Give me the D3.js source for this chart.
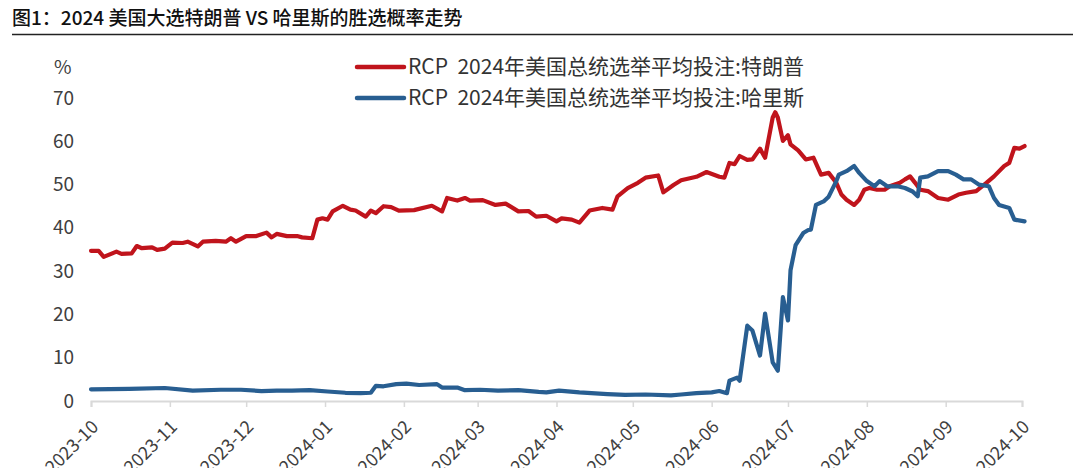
<!DOCTYPE html>
<html>
<head>
<meta charset="utf-8">
<script src="https://cdn.jsdelivr.net/npm/d3@7"></script>
<style>
  html, body { margin: 0; padding: 0; background: #fff; }
  svg { display: block; font-family: "Noto Sans CJK SC", "Noto Sans", sans-serif; }
</style>
</head>
<body>
<svg id="chart" width="1080" height="468"></svg>
<script>
const titleText = "图1：2024 美国大选特朗普 VS 哈里斯的胜选概率走势";
const unitLabel = "%";
const seriesNames = ["RCP  2024年美国总统选举平均投注:特朗普", "RCP  2024年美国总统选举平均投注:哈里斯"];
const seriesColors = ["#c0141c", "#285e91"];
const yTicks = [0, 10, 20, 30, 40, 50, 60, 70];
const xTickLabels = ["2023-10","2023-11","2023-12","2024-01","2024-02","2024-03","2024-04","2024-05","2024-06","2024-07","2024-08","2024-09","2024-10"];

const trumpDates = ["2023-10-01","2023-10-04","2023-10-06","2023-10-11","2023-10-13","2023-10-17","2023-10-19","2023-10-21","2023-10-25","2023-10-27","2023-10-30",
"2023-11-02","2023-11-06","2023-11-08","2023-11-12","2023-11-14","2023-11-19","2023-11-23","2023-11-25","2023-11-27",
"2023-12-01","2023-12-05","2023-12-09","2023-12-11","2023-12-13","2023-12-17","2023-12-21","2023-12-23","2023-12-27","2023-12-29","2023-12-31",
"2024-01-02","2024-01-04","2024-01-08","2024-01-11","2024-01-13","2024-01-17","2024-01-19","2024-01-21","2024-01-24","2024-01-27","2024-01-30",
"2024-02-05","2024-02-12","2024-02-16","2024-02-18","2024-02-22","2024-02-25","2024-02-27",
"2024-03-03","2024-03-08","2024-03-12","2024-03-17","2024-03-21","2024-03-24","2024-03-28",
"2024-04-01","2024-04-03","2024-04-07","2024-04-10","2024-04-14","2024-04-19","2024-04-23","2024-04-25","2024-04-29",
"2024-05-03","2024-05-06","2024-05-11","2024-05-13","2024-05-17","2024-05-20","2024-05-26","2024-05-30",
"2024-06-04","2024-06-06","2024-06-08","2024-06-10","2024-06-12","2024-06-15","2024-06-17","2024-06-20","2024-06-22","2024-06-25","2024-06-26","2024-06-27","2024-06-29",
"2024-07-01","2024-07-02","2024-07-05","2024-07-08","2024-07-11","2024-07-14","2024-07-17","2024-07-20","2024-07-22","2024-07-24","2024-07-27","2024-07-29","2024-07-31",
"2024-08-02","2024-08-05","2024-08-08","2024-08-10","2024-08-14","2024-08-16","2024-08-18","2024-08-20","2024-08-22","2024-08-25","2024-08-29",
"2024-09-02","2024-09-06","2024-09-09","2024-09-13","2024-09-17","2024-09-20","2024-09-24","2024-09-26","2024-09-28","2024-09-30","2024-10-02"];
const trumpValues = [34.7,34.7,33.3,34.5,34.0,34.1,35.8,35.3,35.5,34.9,35.2,
36.6,36.5,36.8,35.7,36.8,37.0,36.8,37.6,36.8,
38.1,38.1,38.9,37.8,38.6,38.1,38.1,37.8,37.6,41.9,42.2,
41.9,43.8,45.1,44.2,44.0,42.6,44.0,43.4,45.0,44.8,44.0,
44.1,45.1,43.8,46.9,46.3,46.9,46.3,
46.4,45.3,45.6,43.8,43.9,42.6,42.8,
41.5,42.2,41.9,41.2,44.0,44.6,44.2,47.3,49.2,
50.4,51.6,52.1,48.2,49.9,51.0,51.8,52.9,
51.8,51.6,55.0,54.7,56.6,55.7,55.8,58.3,56.2,65.5,66.7,65.5,60.1,
61.4,59.3,57.9,55.8,56.2,52.3,52.7,50.4,47.7,46.5,45.3,46.5,48.8,
49.2,48.8,48.8,49.6,50.4,51.2,51.9,50.4,48.8,48.5,46.9,
46.5,47.7,48.1,48.5,50.4,51.9,54.3,55.0,58.5,58.3,58.9];

const harrisDates = ["2023-10-01","2023-10-16","2023-10-30","2023-11-10","2023-11-21","2023-11-29",
"2023-12-07","2023-12-13","2023-12-19","2023-12-26",
"2024-01-02","2024-01-09","2024-01-15","2024-01-19","2024-01-21","2024-01-24","2024-01-29",
"2024-02-02","2024-02-07","2024-02-14","2024-02-16","2024-02-22","2024-02-25",
"2024-03-02","2024-03-09","2024-03-17","2024-03-25","2024-03-28",
"2024-04-02","2024-04-10","2024-04-21","2024-04-28",
"2024-05-06","2024-05-16","2024-05-20","2024-05-26",
"2024-06-01","2024-06-04","2024-06-07","2024-06-08","2024-06-11","2024-06-12","2024-06-15","2024-06-17","2024-06-20","2024-06-22","2024-06-25","2024-06-27","2024-06-29",
"2024-07-01","2024-07-02","2024-07-04","2024-07-07","2024-07-09","2024-07-10","2024-07-12","2024-07-15","2024-07-17","2024-07-20","2024-07-21","2024-07-24","2024-07-27","2024-07-29",
"2024-08-01","2024-08-04","2024-08-06","2024-08-09","2024-08-13","2024-08-16","2024-08-19","2024-08-21","2024-08-22","2024-08-25","2024-08-29",
"2024-09-02","2024-09-05","2024-09-08","2024-09-11","2024-09-14","2024-09-18","2024-09-20","2024-09-22","2024-09-26","2024-09-28","2024-10-02"];
const harrisValues = [2.7,2.8,3.0,2.4,2.6,2.6,
2.3,2.4,2.4,2.5,
2.2,1.9,1.8,1.9,3.5,3.4,3.9,
4.0,3.7,3.9,3.1,3.1,2.5,
2.6,2.4,2.5,2.1,2.0,
2.4,2.0,1.6,1.4,
1.5,1.3,1.5,1.8,
2.0,2.3,1.8,4.7,5.4,4.7,17.4,16.3,10.5,20.2,8.9,7.0,24.0,
18.6,30.2,36.0,38.8,39.5,39.6,45.3,46.1,47.2,50.8,52.3,53.1,54.3,52.7,
50.8,49.6,50.8,49.6,49.6,49.2,48.4,47.3,51.6,51.9,53.1,
53.1,52.3,51.2,51.2,50.0,49.6,46.9,45.3,44.6,41.9,41.5];

const parse = d3.timeParse("%Y-%m-%d");
const svg = d3.select("#chart");
svg.append("rect").attr("width", 1080).attr("height", 468).attr("fill", "#fff");

// title
svg.append("text").attr("x", 12).attr("y", 25)
  .attr("font-size", 19).attr("font-weight", 500).attr("fill", "#111")
  .text(titleText);
svg.append("line").attr("x1", 12).attr("x2", 1073).attr("y1", 34.5).attr("y2", 34.5)
  .attr("stroke", "#222").attr("stroke-width", 1.6);

const x = d3.scaleTime()
  .domain([parse("2023-10-01"), parse("2024-10-01")])
  .range([91, 1022]);
const y = d3.scaleLinear().domain([0, 70]).range([401, 98]);

// y axis labels
const yAxis = d3.axisLeft(y).tickValues(yTicks).tickSize(0).tickPadding(0);
const gy = svg.append("g").attr("transform", "translate(74,0)").call(yAxis);
gy.select(".domain").remove();
gy.selectAll("text").attr("font-size", 19).attr("fill", "#404040")
  .attr("font-family", "'Noto Sans CJK SC', sans-serif");

svg.append("text").attr("x", 54).attr("y", 67).attr("dy", "0.35em")
  .attr("font-size", 19).attr("fill", "#404040").text(unitLabel);

// x axis
const monthTicks = xTickLabels.map(s => parse(s + "-01"));
const xAxis = d3.axisBottom(x).tickValues(monthTicks).tickSize(6)
  .tickFormat((d, i) => xTickLabels[i]);
const gx = svg.append("g").attr("transform", "translate(0,401)").call(xAxis);
gx.select(".domain").attr("stroke", "#d9d9d9").attr("stroke-width", 2);
gx.selectAll(".tick line").attr("stroke", "#d9d9d9").attr("stroke-width", 1.5);
gx.selectAll(".tick text")
  .attr("font-size", 18).attr("fill", "#404040")
  .attr("font-family", "'Noto Sans CJK SC', sans-serif")
  .attr("text-anchor", "end")
  .attr("dy", null).attr("y", null)
  .attr("transform", "translate(8,27) rotate(-45)");

// lines
const line = d3.line().x(d => x(d[0])).y(d => y(d[1])).curve(d3.curveLinear);
const trump = trumpDates.map((d, i) => [parse(d), trumpValues[i]]);
const harris = harrisDates.map((d, i) => [parse(d), harrisValues[i]]);

[trump, harris].forEach((data, i) => {
  svg.append("path").datum(data).attr("d", line)
    .attr("fill", "none").attr("stroke", seriesColors[i]).attr("stroke-width", 4.2)
    .attr("stroke-linejoin", "round").attr("stroke-linecap", "round");
});

// legend
const legY = [67, 98];
seriesNames.forEach((name, i) => {
  svg.append("line").attr("x1", 357).attr("x2", 404).attr("y1", legY[i]).attr("y2", legY[i])
    .attr("stroke", seriesColors[i]).attr("stroke-width", 4.5).attr("stroke-linecap", "round");
  svg.append("text").attr("x", 408).attr("y", legY[i]).attr("dy", "0.35em")
    .attr("font-size", 21).attr("fill", "#333").attr("xml:space", "preserve")
    .style("white-space", "pre").text(name);
});
</script>
</body>
</html>
